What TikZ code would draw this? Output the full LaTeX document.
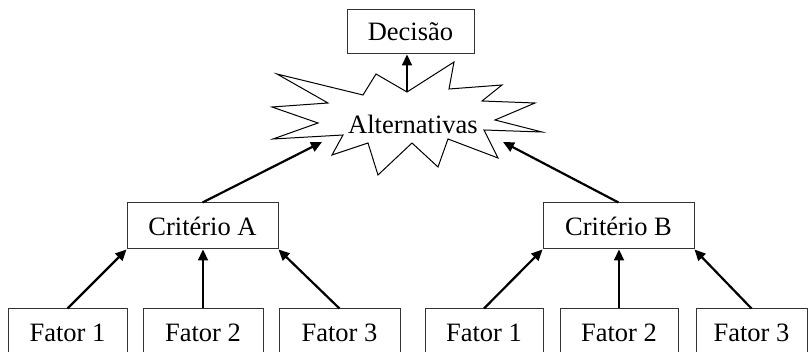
\documentclass[tikz,border=0pt]{standalone}
\usepackage{fontspec}
\setmainfont{Liberation Serif}
\usetikzlibrary{arrows.meta}
\begin{document}
\begin{tikzpicture}[x=1pt,y=-1pt,
  box/.style={draw=black!80,line width=1pt,inner sep=0pt,font=\fontsize{26.5}{30}\selectfont},
  arr/.style={line width=2.2pt,-{Triangle[length=11pt,width=10pt]}},
  starline/.style={draw=black,line width=1pt,line join=miter}]
\useasboundingbox (0,0) rectangle (809,352);
\clip (0,0) rectangle (809,352);
% boxes
\node[box,minimum width=127pt,minimum height=44pt] (dec) at (410.5,32) {Decisão};
\node[box,minimum width=151pt,minimum height=46pt] (ca) at (202.5,226) {Critério A};
\node[box,minimum width=151pt,minimum height=46pt] (cb) at (618.5,226) {Critério B};
\node[box,minimum width=119pt,minimum height=48pt] (fa1) at (67.5,333) {Fator 1};
\node[box,minimum width=120pt,minimum height=48pt] (fa2) at (203,333) {Fator 2};
\node[box,minimum width=121pt,minimum height=48pt] (fa3) at (339.5,333) {Fator 3};
\node[box,minimum width=118pt,minimum height=48pt] (fb1) at (484,333) {Fator 1};
\node[box,minimum width=118pt,minimum height=48pt] (fb2) at (619,333) {Fator 2};
\node[box,minimum width=111pt,minimum height=48pt] (fb3) at (751.5,333) {Fator 3};
% star
\draw[starline] (277,74) -- (363,95) -- (376,74) -- (407,92) -- (454,62) -- (449,89)
  -- (502,85) -- (482,101) -- (535,103) -- (495,120) -- (542,132) -- (484,130)
  -- (498,158) -- (448,139) -- (438,167) -- (412,143) -- (378,175) -- (368,143)
  -- (332,155) -- (343,135) -- (273,139) -- (318,123) -- (272,107) -- (328,103) -- cycle;
\node[font=\fontsize{26.5}{30}\selectfont,inner sep=0pt] (alt) at (413,124) {Alternativas};
\coordinate (stop) at (407,92);
\coordinate (aA) at (322,142);
\coordinate (aB) at (503,142);
% arrows
\draw[arr] (stop) -- (stop |- dec.south);
\draw[arr] (ca.north) -- (aA);
\draw[arr] (cb.north) -- (aB);
\draw[arr] (fa1.north) -- (ca.south west);
\draw[arr] (fa2.north) -- (fa2.north |- ca.south);
\draw[arr] (fa3.north) -- (ca.south east);
\draw[arr] (fb1.north) -- (cb.south west);
\draw[arr] (fb2.north) -- (fb2.north |- cb.south);
\draw[arr] (fb3.north) -- (cb.south east);
\end{tikzpicture}
\end{document}
